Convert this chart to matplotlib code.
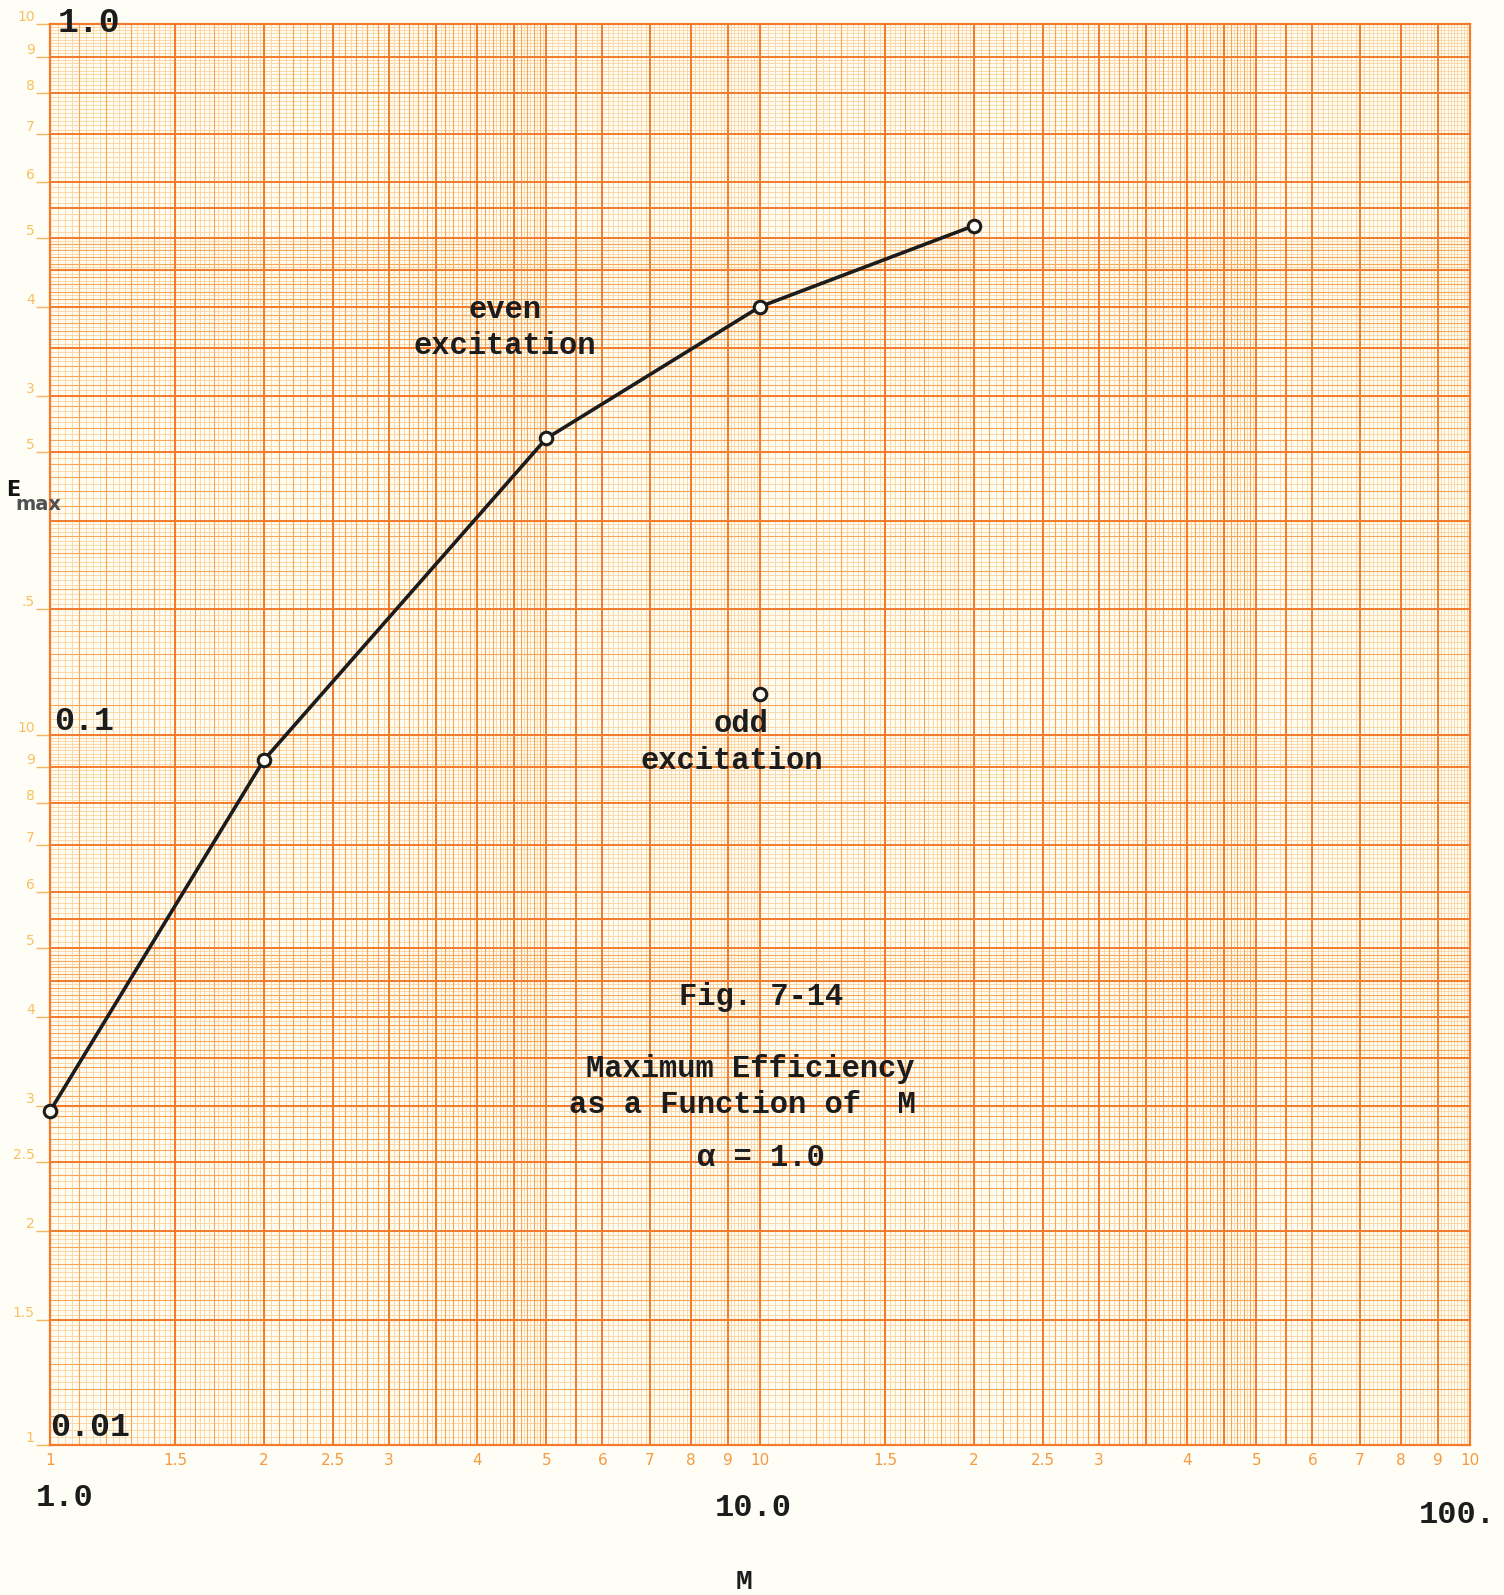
import numpy as np
import matplotlib
matplotlib.use("Agg")
from matplotlib import pyplot as plt

# efficiency curve, even excitation
M_even = [1, 2, 5, 10, 20]
eff_even = [0.0295, 0.092, 0.261, 0.40, 0.52]
# single odd excitation point
M_odd = [10]
eff_odd = [0.114]

x_tick_vals = [1, 1.5, 2, 2.5, 3, 4, 5, 6, 7, 8, 9, 10,
               15, 20, 25, 30, 40, 50, 60, 70, 80, 90, 100]
x_tick_text = ["1", "1.5", "2", "2.5", "3", "4", "5", "6", "7", "8", "9", "10",
               "1.5", "2", "2.5", "3", "4", "5", "6", "7", "8", "9", "10"]
y_tick_vals = [0.01, 0.015, 0.02, 0.025, 0.03, 0.04, 0.05, 0.06, 0.07, 0.08, 0.09, 0.1,
               0.15, 0.25, 0.3, 0.4, 0.5, 0.6, 0.7, 0.8, 0.9, 1.0]
y_tick_text = ["1", "1.5", "2", "2.5", "3", "4", "5", "6", "7", "8", "9", "10",
               ".5", "5", "3", "4", "5", "6", "7", "8", "9", "10"]

W, H = 1504, 1595
paper = "#fefef7"
heavy = "#f37b2b"
medium = "#f7a558"
fine = "#fbd3a0"
ink = "#1c1c1c"
mono = "Liberation Mono"

fig = plt.figure(figsize=(W / 100, H / 100), dpi=100, facecolor=paper)
ax = fig.add_axes([50 / W, 1 - 1445 / H, 1420 / W, 1421 / H])
ax.set_facecolor("#fffdf2")
ax.set_xscale("log")
ax.set_yscale("log")
ax.set_xlim(1, 100)
ax.set_ylim(0.01, 1)


def paper_lines(decades):
    # log-paper rulings for each decade: fine, medium, heavy
    fine_v, med_v, heavy_v = [], [], []
    for d in decades:
        fine_v += list(np.arange(1, 2, 0.025) * d) + list(np.arange(2, 5, 0.05) * d) + list(np.arange(5, 10, 0.1) * d)
        med_v += list(np.arange(1, 5, 0.1) * d)
        heavy_v += [v * d for v in [1, 1.5, 2, 2.5, 3, 3.5, 4, 4.5, 5, 5.5, 6, 7, 8, 9, 10]]
    return fine_v, med_v, heavy_v


fx, mx, hx = paper_lines([1, 10])
fy, my, hy = paper_lines([0.01, 0.1])
for vals_x, vals_y, col, lw in [(fx, fy, fine, 0.6), (mx, my, medium, 0.8), (hx, hy, heavy, 1.4)]:
    for v in vals_x:
        ax.axvline(v, color=col, lw=lw, zorder=1)
    for v in vals_y:
        ax.axhline(v, color=col, lw=lw, zorder=1)

for s in ax.spines.values():
    s.set_color(heavy)
    s.set_linewidth(1.6)

ax.minorticks_off()
ax.set_xticks(x_tick_vals)
ax.set_xticklabels(x_tick_text)
ax.set_yticks(y_tick_vals)
ax.set_yticklabels(y_tick_text)
ax.tick_params(axis="x", length=0, pad=6, labelsize=11, labelcolor="#f59a40")
ax.tick_params(axis="y", length=10, width=1, color="#f7b560", pad=1,
               labelsize=10, labelcolor="#f8c060")
for lbl in ax.get_yticklabels():
    lbl.set_va("bottom")
for lbl in ax.get_xticklabels():
    lbl.set_family(["Liberation Sans Narrow", "DejaVu Sans"])

mk = dict(marker="o", markersize=9, markeredgewidth=2.2,
          markerfacecolor="#fffdf2", markeredgecolor=ink)
ax.plot(M_even, eff_even, color=ink, lw=2.6, zorder=5, clip_on=False, **mk)
ax.plot(M_odd, eff_odd, ls="none", zorder=5, clip_on=False, **mk)


def put(x, y, s, size=22, **kw):
    fig.text(x / W, 1 - y / H, s, ha="center", va="center", family=mono,
             weight="bold", fontsize=size, color=ink, zorder=10, **kw)


put(89, 22, "1.0", 25)
put(84, 722, "0.1", 24)
put(90, 1428, "0.01", 24)
put(65, 1498, "1.0", 23)
put(753, 1508, "10.0", 23)
put(1457, 1515, "100.", 23)
put(744, 1582, "M", 20)

put(505, 310, "even")
put(505, 346, "excitation")
put(741, 724, "odd")
put(732, 761, "excitation")
put(761, 997, "Fig. 7-14")
put(750, 1069, "Maximum Efficiency")
put(742, 1105, "as a Function of  M")
put(761, 1158, "\u03b1 = 1.0")

fig.text(6 / W, 1 - 490 / H, "E", ha="left", va="center", family="DejaVu Sans",
         weight="bold", fontsize=15, color="#111111", zorder=10)
fig.text(15 / W, 1 - 505 / H, "max", ha="left", va="center", family="DejaVu Sans",
         weight="bold", fontsize=14, color="#505050", zorder=10)

fig.savefig("out.png", dpi=100, facecolor=paper)
